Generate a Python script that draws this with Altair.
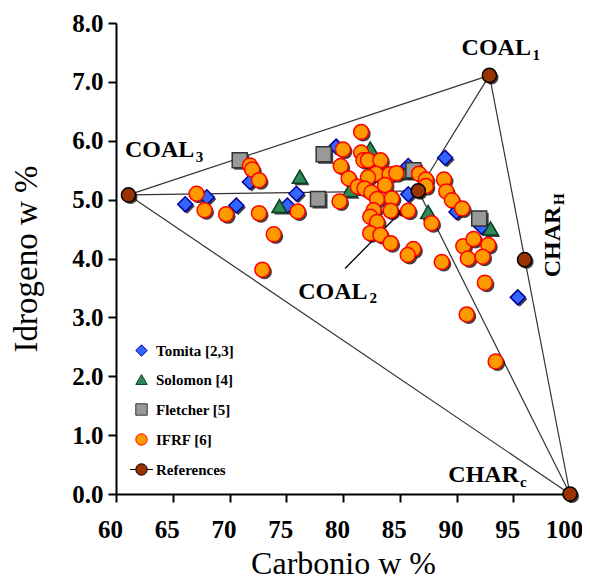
import altair as alt
import pandas as pd

# ---------------- data ----------------
tomita_c = [66.1, 68.0, 70.6, 71.8, 75.1, 75.9, 79.4, 85.75, 85.75, 89.0, 90.0, 92.2, 95.4]
tomita_h = [4.92, 5.04, 4.90, 5.30, 4.90, 5.10, 5.90, 5.57, 5.09, 5.71, 4.79, 4.54, 3.34]

solomon_c = [74.4, 76.2, 80.6, 82.4, 85.6, 87.5, 93.0]
solomon_h = [4.89, 5.39, 5.16, 5.87, 5.47, 4.79, 4.51]

fletcher_c = [70.9, 77.8, 78.3, 86.2, 92.0]
fletcher_h = [5.67, 5.01, 5.77, 5.50, 4.68]

ifrf_c = [67.1, 67.8, 69.7, 71.8, 72.0, 72.6, 72.6, 73.9, 72.9, 76.0, 79.7, 80.0, 79.8, 80.5,
          81.6, 81.6, 81.8, 82.2, 83.3, 82.9, 84.1, 84.7, 82.2, 81.3, 83.7, 81.9, 82.5, 83.0,
          84.3, 86.7, 87.3, 87.3, 88.9, 89.1, 89.6, 90.5, 82.7, 84.2, 85.75, 82.4, 83.0, 82.4,
          83.3, 84.2, 86.2, 85.7, 87.8, 88.7, 90.6, 91.5, 92.8, 91.0, 92.3, 92.5, 90.9, 93.45]
ifrf_h = [5.10, 4.82, 4.75, 5.58, 5.51, 5.33, 4.77, 4.41, 3.81, 4.80, 4.97, 5.85, 5.57, 5.36,
          6.15, 5.80, 5.67, 5.67, 5.67, 5.44, 5.43, 5.45, 5.38, 5.22, 5.25, 5.19, 5.12, 5.01,
          5.02, 5.44, 5.34, 5.23, 5.34, 5.14, 4.99, 4.85, 4.82, 4.81, 4.81, 4.71, 4.62, 4.43,
          4.40, 4.26, 4.16, 4.06, 4.60, 3.94, 4.21, 4.33, 4.23, 4.00, 4.03, 3.59, 3.05, 2.25]

ref_names = ["COAL3", "COAL1", "COAL2", "CHARH", "CHARC"]
ref_c = [61.1, 92.9, 86.63, 96.0, 100.0]
ref_h = [5.08, 7.11, 5.15, 3.98, 0.0]

segments = [("COAL3", "COAL1"), ("COAL3", "COAL2"), ("COAL3", "CHARC"),
            ("COAL1", "COAL2"), ("COAL2", "CHARC"), ("COAL1", "CHARC")]

series_names = ["Tomita [2,3]", "Solomon  [4]", "Fletcher [5]", "IFRF [6]", "References"]
series_fill = ["#3366ff", "#2e8b57", "#999999", "#ff9900", "#993300"]
series_stroke = ["#000099", "#0b3d20", "#333333", "#ff0000", "#000000"]
ref_path = "M-2,0L-1,0M1,0L2,0M-1,0A1,1,0,1,0,1,0A1,1,0,1,0,-1,0Z"
series_shape = ["diamond", "triangle-up", "square", "circle", ref_path]

# labels (main text and subscript)
lab_text = ["COAL", "COAL", "COAL", "CHAR"]
lab_c = [90.45, 60.79, 76.06, 89.28]
lab_h = [7.45, 5.72, 3.32, 0.21]
sub_text = ["1", "3", "2", "c"]
sub_c = [96.7, 67.03, 82.33, 95.6]
sub_h = [7.38, 5.64, 3.25, 0.12]
# rotated CHAR_H label
rot_c = [99.1]
rot_h = [3.68]
rot_sub_c = [99.45]
rot_sub_h = [4.91]

arrow_c = [80.18, 85.2]
arrow_h = [3.83, 4.81]
head_c = [85.12]
head_h = [4.80]

# ---------------- frames ----------------
frames = []
for name, cs, hs in [(series_names[0], tomita_c, tomita_h), (series_names[1], solomon_c, solomon_h),
                     (series_names[2], fletcher_c, fletcher_h), (series_names[3], ifrf_c, ifrf_h)]:
    frames.append(pd.DataFrame({"C": cs, "H": hs, "series": name}))
pts = pd.concat(frames, ignore_index=True)
pts["ord"] = range(len(pts))

ref = pd.DataFrame({"name": ref_names, "C": ref_c, "H": ref_h})
refmap = {n: (c, h) for n, c, h in zip(ref_names, ref_c, ref_h)}
rows = []
for i, (a, b) in enumerate(segments):
    rows.append({"seg": i, "o": 0, "C": refmap[a][0], "H": refmap[a][1]})
    rows.append({"seg": i, "o": 1, "C": refmap[b][0], "H": refmap[b][1]})
seg_df = pd.DataFrame(rows)

labels = pd.DataFrame({"t": lab_text, "C": lab_c, "H": lab_h})
subs = pd.DataFrame({"t": sub_text, "C": sub_c, "H": sub_h})
rot = pd.DataFrame({"t": ["CHAR"], "C": rot_c, "H": rot_h})
rot_sub = pd.DataFrame({"t": ["H"], "C": rot_sub_c, "H": rot_sub_h})
arrow = pd.DataFrame({"C": arrow_c, "H": arrow_h, "o": [0, 1]})
head = pd.DataFrame({"C": head_c, "H": head_h})

FONT = "Liberation Serif"

x_enc = alt.X("C:Q", scale=alt.Scale(domain=[60, 100], nice=False, zero=False),
              axis=alt.Axis(values=[60 + 2.5 * i for i in range(17)],
                            labelExpr="datum.value % 5 == 0 ? datum.value : ''",
                            title="Carbonio w %", grid=False, labelFont=FONT, labelFontWeight="bold",
                            labelFontSize=25, labelColor="black", tickColor="black", tickWidth=2,
                            tickSize=8, domainColor="black", domainWidth=2, labelOverlap=False,
                            labelFlush=False, labelPadding=15, labelOffset=-6, titleFont=FONT,
                            titleFontWeight="normal", titleFontSize=32, titleColor="black",
                            titlePadding=6))
y_enc = alt.Y("H:Q", scale=alt.Scale(domain=[0, 8], nice=False, zero=False),
              axis=alt.Axis(values=[0.5 * i for i in range(17)],
                            labelExpr="datum.value % 1 == 0 ? format(datum.value, '.1f') : ''",
                            title="Idrogeno w %", grid=False, labelFont=FONT, labelFontWeight="bold",
                            labelFontSize=25, labelColor="black", tickColor="black", tickWidth=2,
                            tickSize=8, domainColor="black", domainWidth=2, labelOverlap=False,
                            labelFlush=False, labelPadding=5, titleFont=FONT, titleFontWeight="normal",
                            titleFontSize=33, titleColor="black", titlePadding=28))

lines = alt.Chart(seg_df).mark_line(color="#333333", strokeWidth=1.2).encode(
    x=x_enc, y=y_enc, detail="seg:N", order="o:Q")

arrow_line = alt.Chart(arrow).mark_line(color="black", strokeWidth=1.3).encode(
    x="C:Q", y="H:Q", order="o:Q")
arrow_head = alt.Chart(head).mark_point(shape="triangle-up", filled=True, color="black",
                                         size=70, angle=44, opacity=1).encode(x="C:Q", y="H:Q")

shadows = []
for name, shp in zip(series_names[:4], series_shape[:4]):
    shadows.append(alt.Chart(pts).transform_filter(alt.datum.series == name).mark_point(
        shape=shp, filled=True, color="black", opacity=0.75, size=225, xOffset=2, yOffset=2
    ).encode(x="C:Q", y="H:Q"))
ref_shadow = alt.Chart(ref).mark_point(shape="circle", filled=True, color="black", opacity=0.75,
                                       size=200, xOffset=2, yOffset=2).encode(x="C:Q", y="H:Q")

leg = alt.Legend(title=None, orient="none", legendX=18, legendY=320, labelFont=FONT,
                 labelFontWeight="bold", labelFontSize=15, labelColor="black", symbolSize=130,
                 symbolStrokeWidth=1, rowPadding=13, labelOffset=7, padding=0)
points = alt.Chart(pts).mark_point(filled=True, size=225, strokeWidth=1.5, opacity=1).encode(
    x="C:Q", y="H:Q",
    shape=alt.Shape("series:N", scale=alt.Scale(domain=series_names, range=series_shape), legend=leg),
    fill=alt.Fill("series:N", scale=alt.Scale(domain=series_names, range=series_fill), legend=leg),
    stroke=alt.Stroke("series:N", scale=alt.Scale(domain=series_names, range=series_stroke), legend=leg),
    order="ord:Q")

refs = alt.Chart(ref).mark_point(shape="circle", filled=True, fill="#993300", stroke="black",
                                 strokeWidth=1.5, size=200, opacity=1).encode(x="C:Q", y="H:Q")

lab = alt.Chart(labels).mark_text(font=FONT, fontWeight="bold", fontSize=24, align="left",
                                  baseline="alphabetic", color="black").encode(x="C:Q", y="H:Q", text="t:N")
sub = alt.Chart(subs).mark_text(font=FONT, fontWeight="bold", fontSize=15, align="left",
                                baseline="alphabetic", color="black").encode(x="C:Q", y="H:Q", text="t:N")
rlab = alt.Chart(rot).mark_text(font=FONT, fontWeight="bold", fontSize=24, align="left",
                                baseline="alphabetic", angle=270, color="black").encode(x="C:Q", y="H:Q", text="t:N")
rsub = alt.Chart(rot_sub).mark_text(font=FONT, fontWeight="bold", fontSize=15, align="left",
                                    baseline="alphabetic", angle=270, color="black").encode(x="C:Q", y="H:Q", text="t:N")

chart = alt.layer(lines, arrow_line, arrow_head, *shadows, ref_shadow, points, refs,
                  lab, sub, rlab, rsub).properties(
    width=454, height=471,
    autosize=alt.AutoSizeParams(type="none"),
    padding={"left": 108, "top": 15, "right": 12, "bottom": 86},
).configure_view(stroke=None).configure_legend(
    labelFont=FONT, labelFontWeight="bold", labelFontSize=15, labelColor="black")

chart.save("out.html", embed_options={"renderer": "svg", "actions": False})
